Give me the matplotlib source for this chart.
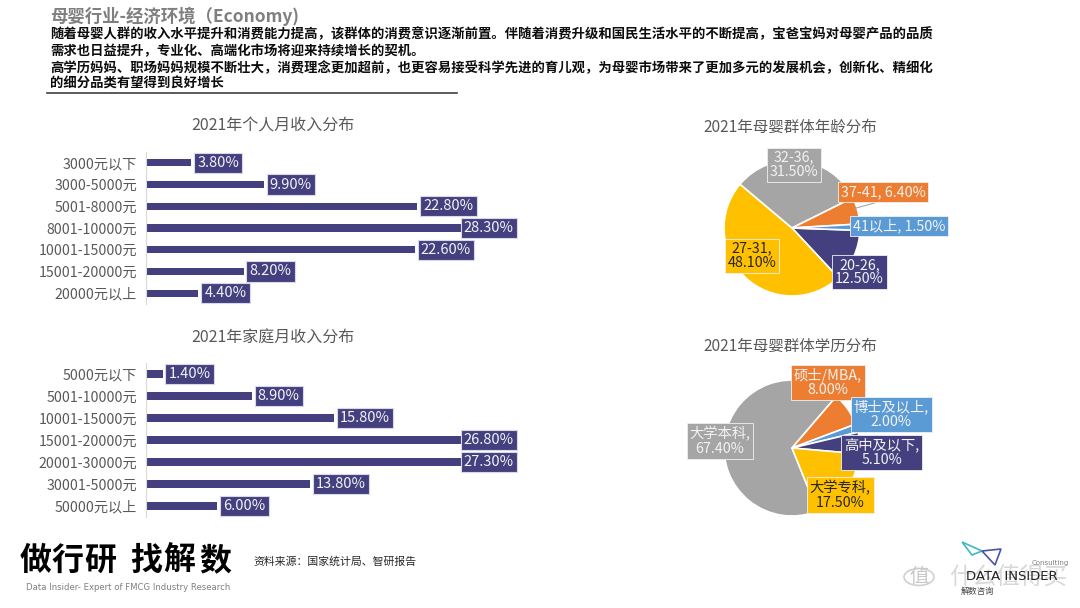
import matplotlib
matplotlib.use('Agg')
import matplotlib.pyplot as plt
from matplotlib.lines import Line2D
from matplotlib.patches import Circle, Polygon

plt.rcParams['font.family'] = ['Noto Sans CJK SC', 'DejaVu Sans']

W, H = 1080, 608

# 数据
personal_cats = ['3000元以下', '3000-5000元', '5001-8000元', '8001-10000元',
                 '10001-15000元', '15001-20000元', '20000元以上']
personal_vals = [3.8, 9.9, 22.8, 28.3, 22.6, 8.2, 4.4]

family_cats = ['5000元以下', '5001-10000元', '10001-15000元', '15001-20000元',
               '20001-30000元', '30001-5000元', '50000元以上']
family_vals = [1.4, 8.9, 15.8, 26.8, 27.3, 13.8, 6.0]

age_cats = ['20-26', '27-31', '32-36', '37-41', '41以上']
age_vals = [12.5, 48.1, 31.5, 6.4, 1.5]

edu_cats = ['大学本科', '硕士/MBA', '博士及以上', '高中及以下', '大学专科']
edu_vals = [67.4, 8.0, 2.0, 5.1, 17.5]

NAVY = '#44407F'
ORANGE = '#ED7D31'
BLUE = '#5B9BD5'
GRAY = '#A5A5A5'
YELLOW = '#FFC000'
TXT = '#595959'


def fx(x):
    return x / W


def fy(y):
    return 1 - y / H


fig = plt.figure(figsize=(W / 100, H / 100), dpi=100)
fig.patch.set_facecolor('white')

# 标题和说明
fig.text(fx(50), fy(16), '母婴行业-经济环境（Economy)', fontsize=12.5,
         fontweight='bold', color='#7F7F7F', va='center')
lines = ['随着母婴人群的收入水平提升和消费能力提高，该群体的消费意识逐渐前置。伴随着消费升级和国民生活水平的不断提高，宝爸宝妈对母婴产品的品质',
         '需求也日益提升，专业化、高端化市场将迎来持续增长的契机。',
         '高学历妈妈、职场妈妈规模不断壮大，消费理念更加超前，也更容易接受科学先进的育儿观，为母婴市场带来了更加多元的发展机会，创新化、精细化',
         '的细分品类有望得到良好增长']
for s, y in zip(lines, [34, 51, 68, 84]):
    fig.text(fx(50), fy(y), s, fontsize=9.6, fontweight='bold',
             color='#0D0D0D', va='center')
fig.add_artist(Line2D([fx(47), fx(457)], [fy(93), fy(93)], color='#404040',
                      lw=1.2, transform=fig.transFigure))


def bar_panel(top, bottom, cats, vals, title, title_y):
    left, right = 146, 146 + 30 * 11.9
    ax = fig.add_axes([fx(left), fy(bottom), (right - left) / W, (bottom - top) / H])
    ax.barh(range(len(cats)), vals, height=0.33, color=NAVY)
    ax.set_xlim(0, 30)
    ax.set_ylim(len(cats) - 0.5, -0.5)
    ax.set_yticks(range(len(cats)))
    ax.set_yticklabels(cats, fontsize=10.2, color=TXT)
    ax.tick_params(axis='y', length=0, pad=6.5)
    ax.set_xticks([])
    for sp in ['top', 'right', 'bottom']:
        ax.spines[sp].set_visible(False)
    ax.spines['left'].set_color('#D9D9D9')
    for i, v in enumerate(vals):
        xt = min(v + 0.5, 26.7)
        ax.text(xt, i, '%.2f%%' % v, ha='left', va='center', fontsize=10.5,
                color='#F2F2F2',
                bbox=dict(boxstyle='square,pad=0.22', fc=NAVY, ec='#D8D8E8', lw=0.8))
    fig.text(fx(273), fy(title_y), title, fontsize=11.5, color=TXT,
             ha='center', va='center')


bar_panel(152, 304, personal_cats, personal_vals, '2021年个人月收入分布', 126)
bar_panel(363, 517, family_cats, family_vals, '2021年家庭月收入分布', 338)


def pie_panel(cx, cy, vals, labels, colors, text_colors, start, pos, title, title_y):
    R = 68
    ax = fig.add_axes([fx(cx - 1.5 * R), fy(cy + 1.5 * R), 3 * R / W, 3 * R / H])
    ax.pie(vals, colors=colors, startangle=start, counterclock=False, radius=1,
           wedgeprops=dict(edgecolor='white', linewidth=1.2))
    ax.set_xlim(-1.5, 1.5)
    ax.set_ylim(-1.5, 1.5)
    ax.axis('off')
    for lab, c, tc, (px, py) in zip(labels, colors, text_colors, pos):
        ax.text(px, py, lab, ha='center', va='center', fontsize=10.3, color=tc,
                linespacing=1.05,
                bbox=dict(boxstyle='square,pad=0.2', fc=c, ec='#F0F0F0', lw=0.6))
    fig.text(fx(790), fy(title_y), title, fontsize=11.2, color=TXT,
             ha='center', va='center')
    return ax


age_sep = ['\n', '\n', '\n', ' ', ' ']
age_labels = ['%s,%s%.2f%%' % (c, s, v) for c, s, v in zip(age_cats, age_sep, age_vals)]
age_pos = [(0.99, -0.65), (-0.59, -0.41), (0.03, 0.93), (1.34, 0.53), (1.57, 0.03)]
ax1 = pie_panel(792, 228, age_vals, age_labels,
                [NAVY, YELLOW, GRAY, ORANGE, BLUE],
                ['#F2F2F2', '#262626', '#F2F2F2', '#F2F2F2', '#F2F2F2'],
                -2, age_pos, '2021年母婴群体年龄分布', 127)
ax1.plot([0.93, 1.22], [0.29, 0.37], color='#A6A6A6', lw=0.8)

edu_labels = ['%s,\n%.2f%%' % (c, v) for c, v in zip(edu_cats, edu_vals)]
edu_pos = [(-1.06, 0.10), (0.53, 0.96), (1.46, 0.49), (1.32, -0.06), (0.71, -0.69)]
pie_panel(792, 448, edu_vals, edu_labels,
          [GRAY, ORANGE, BLUE, NAVY, YELLOW],
          ['#F2F2F2', '#F2F2F2', '#F2F2F2', '#F2F2F2', '#262626'],
          -68, edu_pos, '2021年母婴群体学历分布', 346)

# 页脚
for ch, x in zip('做行研找解数', [36, 67.5, 100, 146, 179, 215.5]):
    fig.text(fx(x), fy(561), ch, fontsize=23, fontweight='bold', color='black',
             ha='center', va='center')
fig.text(fx(26), fy(588), 'Data Insider- Expert of FMCG Industry Research',
         fontsize=6.1, color='#7F7F7F', va='center', family='DejaVu Sans')
fig.text(fx(253), fy(562), '资料来源：国家统计局、智研报告', fontsize=7.8,
         color='#262626', va='center')

# logo 和水印
fig.add_artist(Polygon([(fx(962), fy(542)), (fx(972), fy(555)), (fx(982), fy(551))],
                       closed=True, fill=False, ec='#3FB8C8', lw=1.2,
                       transform=fig.transFigure))
fig.add_artist(Polygon([(fx(982), fy(551)), (fx(1001), fy(549)), (fx(995), fy(565))],
                       closed=True, fill=False, ec='#4A52B0', lw=1.2,
                       transform=fig.transFigure))
fig.add_artist(Circle((fx(919), fy(577)), 15 / W, fill=False, ec='#D0D0D0', lw=1.2,
                      transform=fig.transFigure))
fig.text(fx(919), fy(577), '值', fontsize=14, color='#C8C8C8', ha='center', va='center')
fig.text(fx(1008), fy(578), '什么值得买', fontsize=17, color='#D8D8D8', ha='center',
         va='center')
fig.text(fx(1012), fy(577), 'DATA INSIDER', fontsize=9.5, color='#222222', ha='center',
         va='center', family='DejaVu Sans')
fig.text(fx(1032), fy(563), 'Consulting', fontsize=5, color='#808080', ha='left',
         va='center', family='DejaVu Sans')
fig.text(fx(961), fy(591), '解数咨询', fontsize=6, color='#444444', ha='left', va='center')

fig.savefig('out.png', dpi=100, facecolor='white')
